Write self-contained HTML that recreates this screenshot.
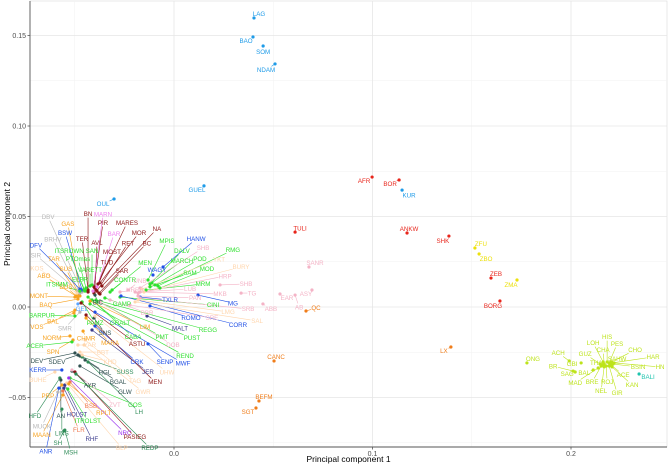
<!DOCTYPE html>
<html><head><meta charset="utf-8">
<style>
html,body{margin:0;padding:0;background:#fff;}
svg{display:block;font-family:"Liberation Sans",sans-serif;}
</style></head>
<body>
<svg id="chart" width="668" height="465" viewBox="0 0 668 465"></svg>
<script>
// ---- chart data (PC1, PC2 per sample) ----
const xTicks = [0.0, 0.1, 0.2];
const xTickLabels = ["0.0", "0.1", "0.2"];
const yTicks = [0.15, 0.10, 0.05, 0.00, -0.05];
const yTickLabels = ["0.15", "0.10", "0.05", "0.00", "\u22120.05"];
const xMinor = [-0.05, 0.05, 0.15];
const yMinor = [0.125, 0.075, 0.025, -0.025, -0.075];

const sampleNames = ["LAG","BAO","SOM","NDAM","OUL","GUEL","AFR","BOR","KUR","ANKW","SHK","TULI","ZFU","ZBO","ZEB","ZMA","BORG","LX","ONG","CANC","BEFM","SGT","QC","SANR","ASY","EAR","AB","ABB","TG",
"BN","PIR","MARES","MOR","NA","TER","AVL","RET","BC","MOST","TUD","SAR","MARN","BAR","GAS","TAR","SUS","ABO","MONT","BAQ","BAL","VOS","NORM","CHMR","SPN","DUS","DBV","BRHV","SIR","KOS","BSW","DFV","GEL",
"ITSROWN","PTOmas","SAN","VARETT","ELBR","ITSIMM","BARPUR","ACER","MPIS","DALV","MARCH","POD","RMG","MOD","SAM","MRM","MEN","CONTR","CINI","GAMP","BIC","PAMZ","GRALT","SNS","CABA","PMT","PUST","REGG","REND",
"MALT","ROMO","TXLR","MG","CORR","HANW","WAGY","SENP","MWF","CRK","JER","ASTU","MEN","MARA","LIM","DEV","SDEV","KERR","HGL","SUSS","BGAL","AYR","GLW","GOS","LH","HFD","PRP","MUCK","MAAN","LINS","SH","ANR","MSH","AN","HOLST","ITROLST","FLR","RHF","BLP","BSB","RPLT","ZVT","NRC","PASIEG","REDP","BUHE","SMR","YAR","BBT","KHD","DOB","UHW","TAG","GWR",
"SHB","YKT","BURY","HRP","SHB","MKB","SRB","LMG","SAL","SRE","LUB","PAN","HRRR","UNB","BBR",
"HIS","PES","LOH","CHA","GUZ","ACH","GBI","BR","SAG","BAL","MAD","BRE","NEL","ROJ","GIR","KAN","ACE","BSIN","HN","HAR","CHO","SAHW","THA","BALI"];

const pc1 = [0.0403,0.0398,0.0449,0.0509,-0.0302,0.0151,0.0998,0.1134,0.1149,0.1174,0.1385,0.0610,0.1516,0.1537,0.1597,0.1728,0.1642,0.1395,0.1778,0.0504,0.0428,0.0413,0.0665,0.0680,0.0695,0.0534,0.0610,0.0448,0.0338,
-0.0433,-0.0403,-0.0383,-0.0373,-0.0363,-0.0433,-0.0398,-0.0388,-0.0378,-0.0393,-0.0403,-0.0373,-0.0408,-0.0388,-0.0474,-0.0484,-0.0474,-0.0494,-0.0499,-0.0484,-0.0499,-0.0504,-0.0524,-0.0458,-0.0509,-0.0484,-0.0463,-0.0474,-0.0484,-0.0489,-0.0463,-0.0474,-0.0484,
-0.0453,-0.0443,-0.0413,-0.0423,-0.0448,-0.0474,-0.0499,-0.0514,-0.0131,-0.0121,-0.0111,-0.0096,-0.0081,-0.0071,-0.0121,-0.0141,-0.0312,-0.0322,-0.0272,-0.0348,-0.0398,-0.0463,-0.0433,-0.0403,-0.0413,-0.0393,-0.0383,-0.0373,-0.0423,
-0.0136,-0.0121,-0.0171,0.0121,-0.0267,-0.0055,-0.0106,-0.0131,-0.0398,-0.0398,-0.0413,-0.0468,-0.0443,-0.0443,-0.0423,-0.0499,-0.0484,-0.0565,-0.0474,-0.0463,-0.0448,-0.0514,-0.0474,-0.0524,-0.0433,-0.0575,-0.0565,-0.0585,-0.0560,-0.0565,-0.0555,-0.0580,-0.0550,-0.0570,-0.0555,-0.0535,-0.0560,-0.0550,-0.0540,-0.0524,-0.0530,-0.0514,-0.0530,-0.0499,-0.0494,-0.0600,-0.0474,-0.0484,-0.0474,-0.0463,-0.0373,-0.0398,-0.0448,-0.0453,
-0.0171,-0.0161,-0.0151,-0.0181,0.0232,-0.0196,-0.0171,-0.0181,-0.0196,-0.0222,-0.0171,-0.0181,-0.0272,-0.0232,-0.0322,
0.2182,0.2192,0.2162,0.2167,0.2147,0.1991,0.2051,0.2011,0.2021,0.2112,0.2137,0.2152,0.2167,0.2177,0.2192,0.2207,0.2202,0.2212,0.2217,0.2207,0.2202,0.2197,0.2157,0.2343];

const pc2 = [0.1597,0.1492,0.1442,0.1343,0.0597,0.0669,0.0718,0.0702,0.0646,0.0409,0.0392,0.0414,0.0326,0.0293,0.0160,0.0149,0.0033,-0.0221,-0.0309,-0.0298,-0.0519,-0.0558,-0.0022,0.0221,0.0094,0.0072,0.0066,0.0017,0.0077,
0.0083,0.0111,0.0127,0.0133,0.0116,0.0094,0.0105,0.0088,0.0077,0.0094,0.0077,0.0072,0.0088,0.0111,0.0083,0.0072,0.0061,0.0061,0.0055,0.0044,-0.0017,-0.0033,-0.0160,-0.0133,-0.0182,0.0055,0.0083,0.0077,0.0088,0.0077,0.0094,0.0099,0.0017,
0.0094,0.0105,0.0122,0.0116,0.0088,0.0088,-0.0050,-0.0193,0.0149,0.0127,0.0133,0.0122,0.0116,0.0105,0.0111,0.0094,0.0094,0.0083,0.0055,0.0050,0.0066,0.0028,0.0055,-0.0061,0.0039,0.0039,0.0028,0.0033,0.0017,
-0.0050,0.0006,0.0055,0.0066,0.0061,0.0221,0.0177,-0.0204,-0.0028,-0.0105,-0.0127,0.0022,-0.0044,-0.0061,0.0033,-0.0254,-0.0265,-0.0348,-0.0271,-0.0276,-0.0293,-0.0354,-0.0326,-0.0392,-0.0304,-0.0392,-0.0431,-0.0470,-0.0486,-0.0564,-0.0685,-0.0448,-0.0680,-0.0403,-0.0448,-0.0453,-0.0464,-0.0431,-0.0420,-0.0414,-0.0425,-0.0348,-0.0392,-0.0359,-0.0370,-0.0359,-0.0028,-0.0210,-0.0249,-0.0265,0.0028,-0.0050,-0.0182,-0.0210,
0.0105,0.0099,0.0083,0.0077,0.0122,0.0083,0.0050,0.0039,0.0028,0.0011,0.0083,0.0061,0.0083,0.0094,0.0039,
-0.0304,-0.0309,-0.0304,-0.0315,-0.0315,-0.0298,-0.0309,-0.0354,-0.0359,-0.0348,-0.0337,-0.0326,-0.0331,-0.0326,-0.0326,-0.0331,-0.0320,-0.0315,-0.0309,-0.0309,-0.0304,-0.0315,-0.0320,-0.0370];

const sampleGroup = ["sb","sb","sb","sb","sb","sb","rd","rd","sb","rd","rd","rd","ye","ye","rd","ye","rd","or","yg","or","or","or","or","pk","pk","pk","pk","pk","pk",
"dr","dr","dr","dr","dr","dr","dr","dr","dr","dr","dr","dr","vi","vi","go","go","go","go","go","go","go","go","go","go","go","go","gy","gy","gy","pe","bl","bl","lb",
"gr","gr","gr","gr","gr","gr","gr","gr","gr","gr","gr","gr","gr","gr","gr","gr","gr","gr","gr","gr","ds","gr","gr","ds","gr","gr","gr","gr","gr",
"nv","bl","bl","bl","bl","bl","bl","bl","bl","bl","nv","dr","dr","go","go","ds","ds","bl","ds","sg","ds","ds","ds","gr","sg","sg","go","gy","go","sg","sg","bl","sg","ds","nv","gr","co","nv","pe","co","go","pk","pu","dr","sg","pe","gy","pe","pe","pe","pk","pe","pe","pe",
"pk","pe","pe","pk","pk","pk","pk","pe","pe","pk","pk","pk","pk","pk","pk",
"yg","yg","yg","yg","yg","yg","yg","yg","yg","yg","yg","yg","yg","yg","yg","yg","yg","yg","yg","yg","yg","yg","yg","tl"];

// label nudges (pixels, repel layout)
const labelNudge = [[5,-4],[-7,4],[0,6],[-9,6],[-11,5],[-7,4],[-8,4],[-9,4],[7,5],[2,-4],[-6,5],[5,-4],[6,-4],[7,5],[5,-4],[-6,5],[-7,5],[-7,4],[6,-4],[2,-4],[5,-4],[-8,4],[10,-3],[6,-4],[-6,4],[7,4],[4,12],[8,5],[11,0],
[0,-78],[9,-64],[29,-61],[39,-50],[55,-57],[-6,-51],[2,-45],[31,-48],[48,-50],[16,-38],[13,-31],[22,-23],[10,-77],[17,-53],[-12,-68],[-24,-35],[-14,-27],[-32,-20],[-36,-1],[-32,6],[-22,11],[-37,14],[-18,2],[3,7],[-20,12],[-12,-10],[-34,-75],[-27,-54],[-42,-36],[-40,-25],[-17,-57],[-44,-44],[4,5],
[-15,-39],[-8,-29],[0,-34],[0,-16],[-5,-12],[-23,-7],[-33,-1],[-37,4],[19,-39],[32,-33],[30,-22],[45,-26],[75,-36],[47,-19],[40,-14],[57,-6],[33,-27],[15,-12],[93,8],[17,6],[3,7],[13,21],[32,26],[11,15],[41,37],[66,37],[94,36],[108,29],[95,52],
[33,12],[41,12],[30,3],[35,8],[117,29],[33,-28],[4,-5],[17,18],[88,51],[42,36],[56,42],[56,41],[69,67],[24,25],[55,26],[-38,8],[-21,7],[-24,0],[25,16],[43,15],[33,22],[18,14],[45,26],[65,27],[51,50],[-25,38],[-14,11],[-16,34],[-21,40],[0,24],[-6,12],[-13,63],[6,22],[0,36],[13,26],[20,32],[16,39],[27,54],[55,65],[21,24],[35,29],[43,35],[56,55],[60,65],[74,74],[-17,8],[-15,16],[12,0],[23,0],[28,7],[73,43],[72,56],[50,41],[59,47],
[63,-40],[77,-30],[97,-25],[87,-17],[26,-1],[85,2],[108,11],[90,12],[122,19],[82,13],[50,-3],[57,2],[15,-2],[12,-9],[37,13],
[0,-25],[8,-19],[-10,-19],[-1,-14],[-15,-10],[-11,-8],[-9,1],[-20,-5],[-8,2],[-9,3],[-23,15],[-9,16],[-3,24],[1,16],[8,27],[20,18],[12,10],[25,3],[46,4],[41,-6],[24,-12],[7,-5],[-6,-2],[9,3]];

const groupColor = {sb:"#1e9be8",rd:"#e8251b",ye:"#ece10c",or:"#f07d1a",pk:"#f4b3c6",dr:"#8b1414",vi:"#ee82ee",go:"#f7a21f",gy:"#b8b8b8",pe:"#ffd6ad",bl:"#1f4fe6",lb:"#5aa5ff",gr:"#2fe02f",ds:"#2f4f4f",nv:"#3a3a8c",sg:"#2e8b57",pu:"#9a32f0",co:"#f07850",yg:"#bde31a",tl:"#1fc4ae"};

// ---- scales ----
const X0 = 174, XS = 1985, Y0 = 307, YS = 1810;
const PL = 30, PR = 667, PT = 1, PB = 447;
function sx(v){ return X0 + v*XS; }
function sy(v){ return Y0 - v*YS; }

const NS = "http://www.w3.org/2000/svg";
const svg = document.getElementById("chart");
function mk(tag, attrs, parent){
  const e = document.createElementNS(NS, tag);
  for (const k in attrs) e.setAttribute(k, attrs[k]);
  (parent||svg).appendChild(e);
  return e;
}

// panel
const panel = mk("rect",{x:PL,y:PT,width:PR-PL,height:PB-PT,fill:"#fff",stroke:"#d9d9d9","stroke-width":0.6});



const grid = mk("g",{});


xMinor.forEach(v=>{ const l=mk("line",{x1:sx(v),x2:sx(v),y1:PT,y2:PB,stroke:"#f2f2f2","stroke-width":0.5},grid);
    });
yMinor.forEach(v=>{ const l=mk("line",{x1:PL,x2:PR,y1:sy(v),y2:sy(v),stroke:"#f2f2f2","stroke-width":0.5},grid);
    });
xTicks.forEach(v=>{ const l=mk("line",{x1:sx(v),x2:sx(v),y1:PT,y2:PB,stroke:"#e6e6e6","stroke-width":0.8},grid);
    });
yTicks.forEach(v=>{ const l=mk("line",{x1:PL,x2:PR,y1:sy(v),y2:sy(v),stroke:"#e6e6e6","stroke-width":0.8},grid);
    });

// axes
const xAxis = mk("line",{x1:PL,x2:PR,y1:PB,y2:PB,stroke:"#555","stroke-width":0.9});
 
const yAxis = mk("line",{x1:PL,x2:PL,y1:PT,y2:PB,stroke:"#555","stroke-width":0.9});
 

xTicks.forEach((v,i)=>{
  const t=mk("line",{x1:sx(v),x2:sx(v),y1:PB,y2:PB+2.5,stroke:"#555","stroke-width":0.8});
   
  const lb=mk("text",{x:sx(v),y:PB+9,"font-size":7,fill:"#4d4d4d","text-anchor":"middle"});
  lb.textContent=xTickLabels[i];
   
});
yTicks.forEach((v,i)=>{
  const t=mk("line",{x1:PL-2.5,x2:PL,y1:sy(v),y2:sy(v),stroke:"#555","stroke-width":0.8});
   
  const lb=mk("text",{x:PL-4,y:sy(v)+2.5,"font-size":7,fill:"#4d4d4d","text-anchor":"end"});
  lb.textContent=yTickLabels[i];
   
});
const xt = mk("text",{x:(PL+PR)/2,y:462,"font-size":8.5,fill:"#000","text-anchor":"middle"});
xt.textContent="Principal component 1";
 
const yt = mk("text",{x:0,y:0,"font-size":8.5,fill:"#000","text-anchor":"middle",transform:"translate(10,"+((PT+PB)/2)+") rotate(-90)"});
yt.textContent="Principal component 2";
 

// segments, points, labels
const segLayer = mk("g",{});  
const ptLayer = mk("g",{});  
const lbLayer = mk("g",{});  

sampleNames.forEach((name,i)=>{
  const col = groupColor[sampleGroup[i]];
  const px = sx(pc1[i]), py = sy(pc2[i]);
  const nd = labelNudge[i] || [0,-6];
  const lx = px + nd[0], ly = py + nd[1];
  const hw = name.length*1.85 + 1, hh = 3.6;
  const dx = lx - px, dy = ly - py;
  if (Math.abs(dx) > hw || Math.abs(dy) > hh){
    // clip segment at label box edge
    let t = 1;
    if (dx !== 0) t = Math.min(t, Math.abs(dx) > hw ? (Math.abs(dx)-hw)/Math.abs(dx) : 1);
    let t2 = 1;
    if (dy !== 0) t2 = Math.abs(dy) > hh ? (Math.abs(dy)-hh)/Math.abs(dy) : 1;
    const tt = Math.max(Math.min(t,1), 0) < 1 && t2 < 1 ? Math.max(t,t2) : Math.min(t,t2);
    const ex = px + dx*tt, ey = py + dy*tt;
    if (Math.hypot(ex-px,ey-py) > 2.5){
      const s = mk("line",{x1:px,y1:py,x2:ex,y2:ey,stroke:col,"stroke-width":0.6},segLayer);
       
    }
  }
  const c = mk("circle",{cx:px,cy:py,r:1.6,fill:col},ptLayer);
  
  
  const t = mk("text",{x:lx,y:ly+2.2,"font-size":6.2,fill:col,"text-anchor":"middle"},lbLayer);
  t.textContent = name;
  
  
});
</script>
</body></html>
